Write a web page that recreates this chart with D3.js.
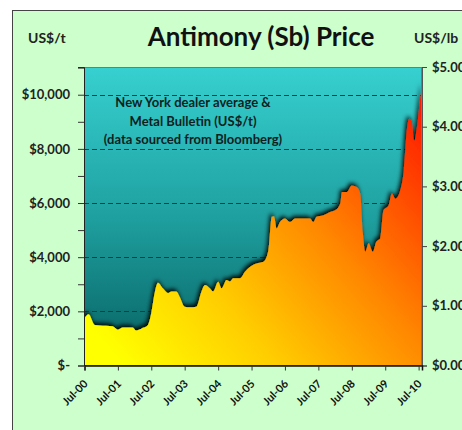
<!DOCTYPE html>
<html><head><meta charset="utf-8">
<script src="https://cdn.jsdelivr.net/npm/d3@7"></script>
<style>
html,body{margin:0;padding:0;background:#fff;}
svg{display:block;font-family:Lato,"DejaVu Sans",sans-serif;}
</style></head>
<body>
<svg id="c" width="462" height="430"></svg>
<script>
// ---- data ----
const dates = ["2000-07-01","2000-08-15","2000-10-20","2000-12-15","2001-02-20","2001-05-05","2001-07-01","2001-08-25","2001-12-10","2002-01-15","2002-04-01","2002-05-25","2002-07-01","2002-08-07","2002-09-12","2002-11-05","2003-01-01","2003-02-07","2003-04-01","2003-05-07","2003-07-01","2003-08-25","2003-11-05","2004-01-01","2004-02-07","2004-04-01","2004-05-07","2004-07-01","2004-08-07","2004-10-01","2004-11-07","2004-12-12","2005-02-25","2005-04-20","2005-06-15","2005-08-25","2005-11-07","2006-01-01","2006-02-07","2006-03-03","2006-04-01","2006-05-07","2006-07-01","2006-08-25","2006-10-20","2007-04-01","2007-05-07","2007-06-12","2007-08-25","2007-11-07","2008-01-01","2008-02-25","2008-03-15","2008-05-07","2008-07-01","2008-08-25","2008-10-01","2008-10-30","2008-11-25","2009-01-01","2009-02-15","2009-03-25","2009-05-07","2009-06-12","2009-08-07","2009-09-12","2009-10-20","2009-12-12","2010-01-20","2010-02-25","2010-03-20","2010-04-15","2010-05-15","2010-06-12","2010-07-20","2010-08-07"];
const prices = [1750,1890,1500,1480,1470,1450,1320,1400,1400,1290,1390,1500,1940,2680,3060,2850,2670,2730,2730,2540,2170,2150,2170,2730,2970,2850,2730,3090,2850,3160,3100,3220,3220,3460,3650,3770,3830,4260,5490,5510,5060,5300,5430,5300,5430,5430,5300,5490,5550,5670,5730,5980,6410,6410,6650,6590,6350,4880,4200,4510,4200,4570,4690,5730,5920,6350,6160,6470,7210,8800,9110,9050,8310,8800,9900,10340];
const leftTicks = [0,2000,4000,6000,8000,10000];
const leftTickLabels = ["$-","$2,000","$4,000","$6,000","$8,000","$10,000"];
const rightTicks = [0,1,2,3,4,5];
const rightTickLabels = ["$0.00","$1.00","$2.00","$3.00","$4.00","$5.00"];
const xTickDates = ["2000-07-01","2001-07-01","2002-07-01","2003-07-01","2004-07-01","2005-07-01","2006-07-01","2007-07-01","2008-07-01","2009-07-01","2010-07-01"];
const xTickLabels = ["Jul-00","Jul-01","Jul-02","Jul-03","Jul-04","Jul-05","Jul-06","Jul-07","Jul-08","Jul-09","Jul-10"];
const title = "Antimony (Sb) Price";
const noteLines = ["New York dealer average &","Metal Bulletin (US$/t)","(data sourced from Bloomberg)"];

// ---- layout ----
const parse = d3.utcParse("%Y-%m-%d");
const data = dates.map((d,i)=>({date:parse(d), v:prices[i]}));
const L=84, T=67, R=422, B=365.5;
const x = d3.scaleUtc().domain([parse("2000-07-01"), parse("2010-08-07")]).range([L+0.5, R]);
const yL = d3.scaleLinear().domain([0, 5*2204.62]).range([B, T]);
const yR = d3.scaleLinear().domain([0, 5]).range([B, T]);

const svg = d3.select("#c");
const defs = svg.append("defs");
const bg = defs.append("linearGradient").attr("id","bgGrad").attr("x1",0).attr("y1",0).attr("x2",0).attr("y2",1);
bg.append("stop").attr("offset","0").attr("stop-color","#37d0d0");
bg.append("stop").attr("offset","0.5").attr("stop-color","#1fa0a0");
bg.append("stop").attr("offset","1").attr("stop-color","#065e5e");
const ag = defs.append("linearGradient").attr("id","areaGrad").attr("gradientUnits","userSpaceOnUse")
  .attr("x1",L+40).attr("y1",B).attr("x2",R).attr("y2",T+40);
ag.append("stop").attr("offset","0").attr("stop-color","#ffff00");
ag.append("stop").attr("offset","0.3").attr("stop-color","#ffcc00");
ag.append("stop").attr("offset","0.6").attr("stop-color","#ff8800");
ag.append("stop").attr("offset","1").attr("stop-color","#ff1a00");
const f = defs.append("filter").attr("id","sh").attr("x","-10%").attr("y","-10%").attr("width","120%").attr("height","120%");
f.append("feDropShadow").attr("dx",-1.5).attr("dy",-2.5).attr("stdDeviation",2).attr("flood-color","#000").attr("flood-opacity",0.95);
defs.append("clipPath").attr("id","clip").append("rect").attr("x",L).attr("y",T).attr("width",R-L).attr("height",B-T);

// outer frame
svg.append("rect").attr("x",12.5).attr("y",10.5).attr("width",460).attr("height",430)
  .attr("fill","#ccffcc").attr("stroke","#444").attr("stroke-width",1);

// plot background
svg.append("rect").attr("x",L).attr("y",T).attr("width",R-L).attr("height",B-T).attr("fill","url(#bgGrad)");

// grid
svg.append("g").selectAll("line").data(leftTicks.filter(d=>d>0)).join("line")
  .attr("x1",L).attr("x2",R).attr("y1",d=>Math.round(yL(d))+0.5).attr("y2",d=>Math.round(yL(d))+0.5)
  .attr("stroke","#173c3c").attr("stroke-width",1.2).attr("stroke-dasharray","5,3");

// area
const area = d3.area().x(d=>x(d.date)).y0(B).y1(d=>yL(d.v)).curve(d3.curveMonotoneX);
svg.append("g").attr("clip-path","url(#clip)").append("path").datum(data)
  .attr("d",area).attr("fill","url(#areaGrad)").attr("filter","url(#sh)");

// plot border
svg.append("rect").attr("x",L+0.5).attr("y",T+0.5).attr("width",R-L-1).attr("height",B-T-0.5)
  .attr("fill","none").attr("stroke","#777").attr("stroke-width",1);

// left axis
const gl = svg.append("g").attr("transform",`translate(${L},0)`)
  .call(d3.axisLeft(yL).tickValues(d3.range(0,11001,1000)).tickSize(6).tickFormat(""));
gl.select(".domain").attr("stroke","#222");
gl.selectAll(".tick line").attr("stroke","#333");
svg.append("g").selectAll("text").data(leftTicks).join("text")
  .attr("x",70).attr("y",d=>yL(d)).attr("dy","0.36em").attr("text-anchor","end")
  .attr("font-size",13).attr("font-weight","bold").attr("fill","#222")
  .text((d,i)=>leftTickLabels[i]);

// right axis
const gr = svg.append("g").attr("transform",`translate(${R},0)`)
  .call(d3.axisRight(yR).tickValues(rightTicks).tickSize(5).tickFormat(""));
gr.select(".domain").attr("stroke","#555");
gr.selectAll(".tick line").attr("stroke","#444");
svg.append("g").selectAll("text").data(rightTicks).join("text")
  .attr("x",432).attr("y",d=>yR(d)).attr("dy","0.36em").attr("text-anchor","start")
  .attr("font-size",13).attr("font-weight","bold").attr("fill","#222")
  .text((d,i)=>rightTickLabels[i]);

// x axis
const gx = svg.append("g").attr("transform",`translate(0,${B})`)
  .call(d3.axisBottom(x).tickValues(xTickDates.map(parse)).tickSize(5).tickFormat(""));
gx.select(".domain").attr("stroke","#111").attr("stroke-width",1.5);
gx.selectAll(".tick line").attr("stroke","#333");
svg.append("g").selectAll("text").data(xTickDates).join("text")
  .attr("transform",d=>`translate(${x(parse(d))+4},${B+19}) rotate(-45)`)
  .attr("text-anchor","end").attr("font-size",11).attr("font-weight","bold").attr("fill","#111")
  .text((d,i)=>xTickLabels[i]);

// titles
svg.append("text").attr("x",261).attr("y",46).attr("text-anchor","middle")
  .attr("font-size",26).attr("font-weight","bold").attr("fill","#111").text(title);
svg.append("text").attr("x",28).attr("y",43).attr("font-size",14).attr("font-weight","bold").attr("fill","#222").text("US$/t");
svg.append("text").attr("x",414).attr("y",43).attr("font-size",14).attr("font-weight","bold").attr("fill","#222").text("US$/lb");

// note
svg.append("g").selectAll("text").data(noteLines).join("text")
  .attr("x",193).attr("y",(d,i)=>107+i*18.5).attr("text-anchor","middle")
  .attr("font-size",13).attr("font-weight","bold").attr("fill","#0d1f1f").text(d=>d);
</script>
</body></html>
